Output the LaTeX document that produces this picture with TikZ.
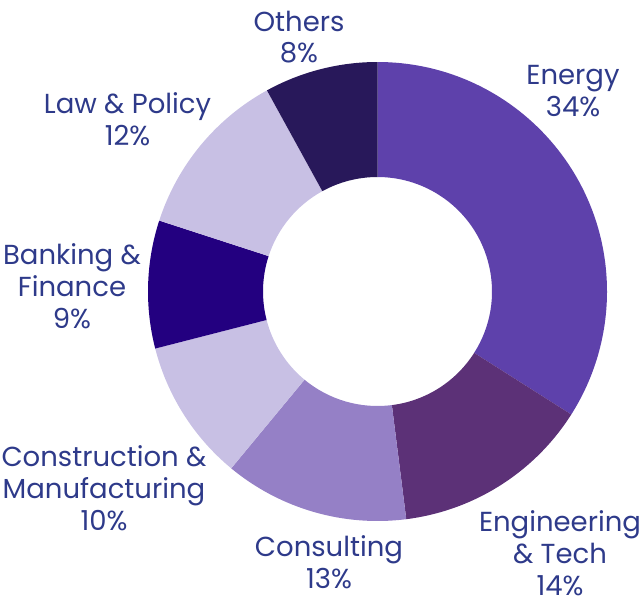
\documentclass[tikz,border=0pt]{standalone}
\usepackage{fontspec}
\setmainfont{Poppins}
\usepackage{tikz}
\usetikzlibrary{positioning}
\definecolor{cenergy}{HTML}{5E41AB}
\definecolor{cengtech}{HTML}{5C3177}
\definecolor{cconsult}{HTML}{9580C6}
\definecolor{cconstr}{HTML}{C8C0E4}
\definecolor{cbanking}{HTML}{230080}
\definecolor{claw}{HTML}{C8C0E4}
\definecolor{cothers}{HTML}{28185A}
\definecolor{ctext}{HTML}{2E3A8A}
\tikzstyle{lbl} = [text=ctext, align=center, inner sep=0pt, anchor=base, font=\fontsize{27.5}{32}\selectfont]

\begin{document}
\begin{tikzpicture}[x=1pt, y=1pt]
			\useasboundingbox (0,0) rectangle (644,-602);
			\begin{scope}[shift={(377.5,-291.5)}]
				\foreach \a/\b/\c in {90/-32.4/cenergy, -32.4/-82.8/cengtech, -82.8/-129.6/cconsult, -129.6/-165.6/cconstr, -165.6/-198/cbanking, -198/-241.2/claw, -241.2/-270/cothers}
					\fill [\c] (\a:229.5) arc [start angle=\a, end angle=\b, radius=229.5] -- (\b:114.5) arc [start angle=\b, end angle=\a, radius=114.5] -- cycle;
			\end{scope}
			
			% last line baselines
			\node [lbl] (energy) at (573, -116) {Energy\\34\%};
			\node [lbl] (engtech) at (560, -595) {Engineering\\\& Tech\\14\%};
			\node [lbl] (consult) at (329, -588) {Consulting\\13\%};
			\node [lbl] (constr) at (104, -530) {Construction \&\\Manufacturing\\10\%};
			\node [lbl] (banking) at (72, -328) {Banking \&\\Finance\\9\%};
			\node [lbl] (law) at (127.5, -145) {Law \& Policy\\12\%};
			\node [lbl] (others) at (299, -63) {Others\\8\%};
		\end{tikzpicture}
\end{document}
